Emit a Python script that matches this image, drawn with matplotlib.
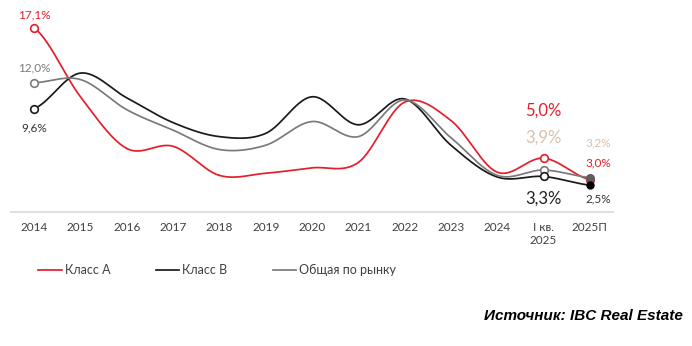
import numpy as np
import matplotlib
matplotlib.use("Agg")
import matplotlib.pyplot as plt

plt.rcParams['font.family'] = ['Lato', 'DejaVu Sans']

# data (vacancy, %)
years = ["2014", "2015", "2016", "2017", "2018", "2019", "2020", "2021",
         "2022", "2023", "2024", "I кв.\n2025", "2025П"]
class_a = [17.1, 10.7, 5.9, 6.1, 3.4, 3.6, 4.1, 4.6, 10.2, 8.5, 3.7, 5.0, 3.0]
class_b = [9.6, 12.9, 10.6, 8.3, 7.0, 7.3, 10.7, 8.1, 10.5, 6.2, 3.25, 3.3, 2.5]
market = [12.0, 12.3, 9.5, 7.6, 5.8, 6.2, 8.4, 7.0, 10.4, 6.9, 3.4, 3.9, 3.2]

red = "#e41e2b"
black = "#1a1a1a"
gray = "#7a7a7a"
tan = "#d8c0ab"


def smooth(y, n=30):
    # catmull-rom curve through the points (like excel "smoothed line")
    y = np.asarray(y, float)
    x = np.arange(len(y), dtype=float)
    px = np.concatenate([[2 * x[0] - x[1]], x, [2 * x[-1] - x[-2]]])
    py = np.concatenate([[y[0]], y, [y[-1]]])
    xs, ys = [], []
    t = np.linspace(0, 1, n)
    for i in range(1, len(px) - 2):
        p0, p1, p2, p3 = py[i - 1], py[i], py[i + 1], py[i + 2]
        q0, q1, q2, q3 = px[i - 1], px[i], px[i + 1], px[i + 2]
        xs.append(0.5 * ((2 * q1) + (-q0 + q2) * t + (2 * q0 - 5 * q1 + 4 * q2 - q3) * t**2 + (-q0 + 3 * q1 - 3 * q2 + q3) * t**3))
        ys.append(0.5 * ((2 * p1) + (-p0 + p2) * t + (2 * p0 - 5 * p1 + 4 * p2 - p3) * t**2 + (-p0 + 3 * p1 - 3 * p2 + p3) * t**3))
    return np.concatenate(xs), np.concatenate(ys)


fig = plt.figure(figsize=(6.92, 3.46), dpi=100)
ax = fig.add_axes([11 / 692, 1 - 212 / 346, 602 / 692, 204.6 / 346])

idx = np.arange(len(years))
for vals, col, name in [(class_a, red, "Класс А"), (class_b, black, "Класс В"), (market, gray, "Общая по рынку")]:
    sx, sy = smooth(vals)
    ax.plot(sx, sy, color=col, lw=1.25, label=name, zorder=2)

# markers
for vals, col in [(class_a, red), (market, gray), (class_b, black)]:
    ax.plot([0, 11], [vals[0], vals[11]], "o", ms=5.5, mfc="white", mec=col, mew=1.2, zorder=3)
ax.plot(12, class_a[12], "o", ms=5.5, mfc=red, mec=red, zorder=3)
ax.plot(12, market[12], "o", ms=5.5, mfc="#5e5e5e", mec="#5e5e5e", zorder=4)
ax.plot(12, class_b[12], "o", ms=5, mfc="black", mec="black", zorder=4)


def lab(txt, x, y, dx, dy, col, fs):
    ax.annotate(txt, (x, y), xytext=(dx * 0.72, dy * 0.72), textcoords="offset points",
                ha="center", va="center", color=col, fontsize=fs)


lab("17,1%", 0, class_a[0], 0, 13, red, 8.5)
lab("12,0%", 0, market[0], 0, 15, gray, 8.5)
lab("9,6%", 0, class_b[0], 0, -19, "#333333", 8.5)
lab("5,0%", 11, class_a[11], 0, 48, red, 12)
lab("3,9%", 11, market[11], 0, 32, tan, 12)
lab("3,3%", 11, class_b[11], 0, -22, "#222222", 12)
lab("3,2%", 12, market[12], 8, 35, tan, 8.5)
lab("3,0%", 12, class_a[12], 8, 17, red, 8.5)
lab("2,5%", 12, class_b[12], 8, -14, "#333333", 8.5)

ax.set_xlim(-0.5, len(years) - 0.5)
ax.set_ylim(0, 19)
ax.set_xticks(idx)
ax.set_xticklabels(years, fontsize=8.5, color="#404040", linespacing=1.3)
ax.tick_params(axis="x", length=0, pad=7)
ax.set_yticks([])
for s in ["top", "left", "right"]:
    ax.spines[s].set_visible(False)
ax.spines["bottom"].set_color("#d9d9d9")
ax.spines["bottom"].set_linewidth(1.2)

fig.legend(loc="center", bbox_to_anchor=(0.314, 0.22), ncol=3, frameon=False,
           fontsize=9, handlelength=1.9, handletextpad=0.25, columnspacing=3.6,
           labelcolor="#404040")

fig.text(683 / 692, 1 - 316 / 346, "Источник: IBC Real Estate", ha="right", va="center",
         fontsize=11, fontweight="bold", fontstyle="italic", family="Liberation Sans", color="black")

fig.savefig("out.png", dpi=100)
